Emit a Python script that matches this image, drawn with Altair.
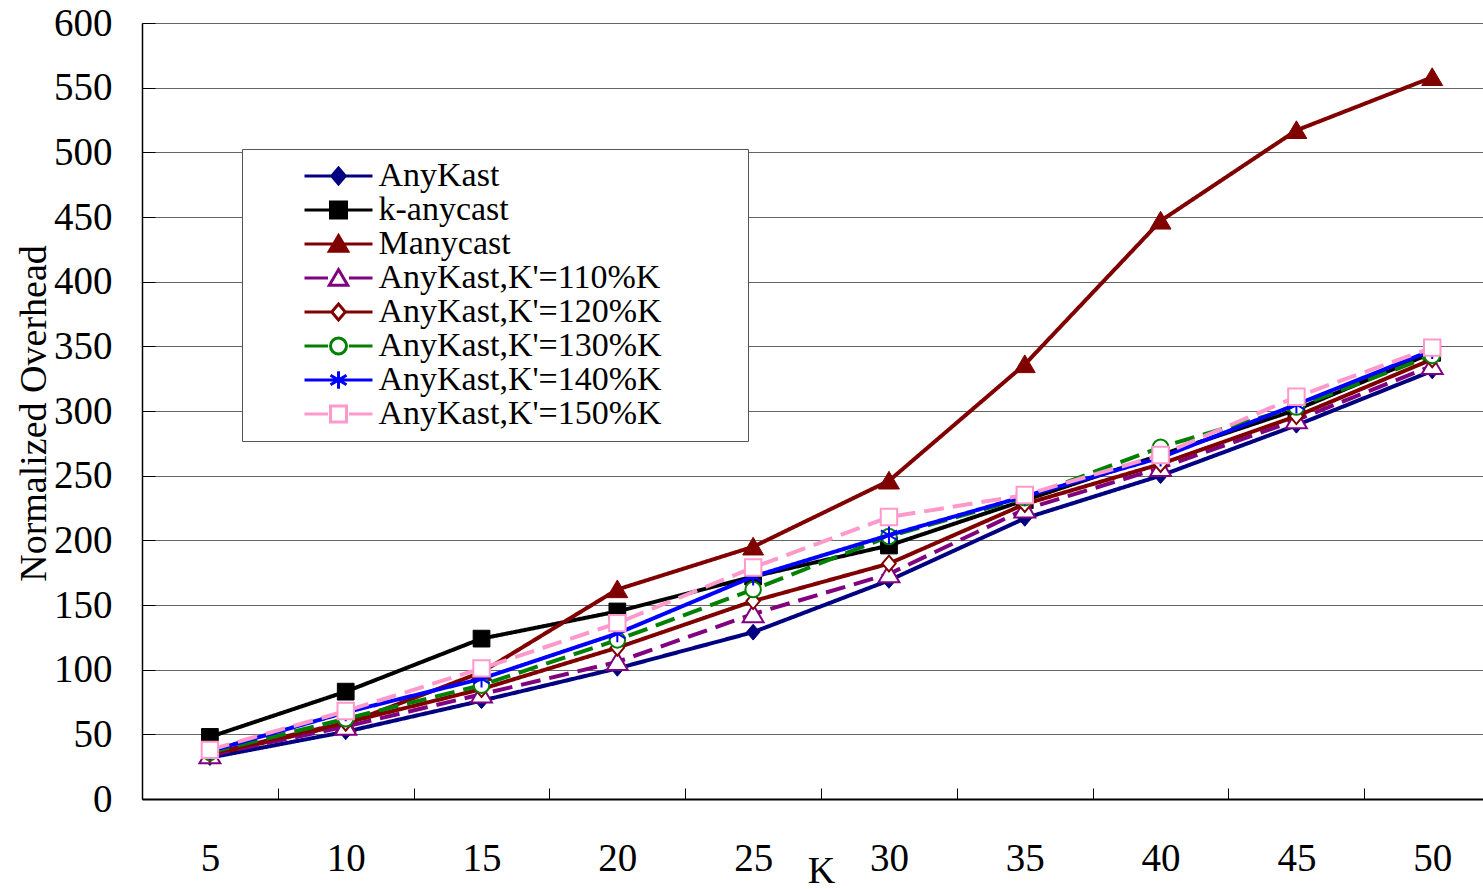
import altair as alt
import pandas as pd

# ---------------- data ----------------
K = [5, 10, 15, 20, 25, 30, 35, 40, 45, 50]
SERIES = [
    "AnyKast",
    "k-anycast",
    "Manycast",
    "AnyKast,K'=110%K",
    "AnyKast,K'=120%K",
    "AnyKast,K'=130%K",
    "AnyKast,K'=140%K",
    "AnyKast,K'=150%K",
]
anykast = [32, 52, 76, 101, 129, 169, 217, 250, 289, 331]
k_anycast = [48, 83, 124, 145, 172, 196, 231, 266, 301, 345]
manycast = [34, 58, 98, 162, 195, 246, 336, 447, 517, 558]
ak110 = [34, 56, 81, 106, 143, 174, 224, 256, 293, 335]
ak120 = [35, 59, 85, 117, 153, 182, 228, 259, 296, 340]
ak130 = [36, 62, 88, 123, 162, 203, 233, 272, 303, 343]
ak140 = [37, 67, 93, 128, 172, 204, 234, 264, 305, 347]
ak150 = [38, 68, 101, 136, 179, 218, 235, 266, 311, 349]
VALUES = [anykast, k_anycast, manycast, ak110, ak120, ak130, ak140, ak150]
Y_TICKS = list(range(0, 601, 50))

COLORS = ["#000080", "#000000", "#800000", "#800080", "#800000", "#008000", "#0000FF", "#FF99CC"]
FILLS = ["#000080", "#000000", "#800000", "#FFFFFF", "#FFFFFF", "#FFFFFF", "#FFFFFF", "#FFFFFF"]
DASHED = [False, False, False, True, False, True, False, True]
MARKERS = ["diamond", "square", "triangle", "triangle", "diamond", "circle", "asterisk", "square"]
OPEN = [False, False, False, True, True, True, True, True]

rows = []
for s, vals in zip(SERIES, VALUES):
    for k, v in zip(K, vals):
        rows.append({"K": k, "value": v, "series": s})
df = pd.DataFrame(rows)

# boundaries between K categories (where the axis ticks sit)
TICK_POS = [(a + b) / 2 for a, b in zip(K[:-1], K[1:])]


# ---------------- marker geometry ----------------
def fmt(v):
    return f"{v:.3f}".rstrip("0").rstrip(".")


def marker_path(kind, s):
    if kind == "diamond":
        pts = [(0, -1), (0.85, 0), (0, 1), (-0.85, 0)]
    elif kind == "square":
        pts = [(-1, -1), (1, -1), (1, 1), (-1, 1)]
    elif kind == "triangle":
        pts = [(0, -1.05), (1.15, 0.9), (-1.15, 0.9)]
    elif kind == "circle":
        r = fmt(s)
        return f"M{r},0A{r},{r},0,1,1,-{r},0A{r},{r},0,1,1,{r},0Z"
    else:  # asterisk
        segs = [((0, -1.1), (0, 1.1)), ((-1, -0.6), (1, 0.6)), ((-1, 0.6), (1, -0.6))]
        return "".join(
            f"M{fmt(a[0]*s)},{fmt(a[1]*s)}L{fmt(b[0]*s)},{fmt(b[1]*s)}" for a, b in segs
        )
    return "M" + "L".join(f"{fmt(x*s)},{fmt(y*s)}" for x, y in pts) + "Z"


HALF_W = {"diamond": 0.85, "square": 1.0, "triangle": 1.15, "circle": 1.0, "asterisk": 1.0}


def legend_path(kind, dashed, open_):
    m = 0.8  # marker scale in legend units (1 unit = 10 px)
    L = 3.4
    if dashed:
        g = 1.05
        line = f"M-{L},0L-{g},0M{g},0L{L},0"
    elif open_ and kind != "asterisk":
        g = HALF_W[kind] * m
        line = f"M-{L},0L-{fmt(g)},0M{fmt(g)},0L{L},0"
    else:
        line = f"M-{L},0L{L},0"
    return line + marker_path(kind, m)


CHART_SHAPES = [marker_path(k, 1.0) for k in MARKERS]
CHART_SIZES = [250, 280, 330, 330, 250, 240, 260, 270]
LEGEND_SHAPES = [legend_path(k, d, o) for k, d, o in zip(MARKERS, DASHED, OPEN)]
DASHES = [[20, 9] if d else [1, 0] for d in DASHED]

# ---------------- geometry ----------------
W, H = 1341, 776
FONT = "Liberation Serif"

x_scale = alt.Scale(domain=[2.5, 51.87], nice=False, zero=False)
y_scale = alt.Scale(domain=[0, 600], nice=False, zero=False)
stroke_scale = alt.Scale(domain=SERIES, range=COLORS)
fill_scale = alt.Scale(domain=SERIES, range=FILLS)
shape_scale = alt.Scale(domain=SERIES, range=LEGEND_SHAPES)

base = alt.Chart(df)

main_x_axis = alt.Axis(
    orient="bottom", values=K, ticks=False, tickSize=0, labelPadding=40,
    labelFontSize=39, labelColor="black", labelFont=FONT,
    domain=True, domainColor="black", domainWidth=2, grid=False,
    title="K", titleFontSize=38, titleFont=FONT, titleFontWeight="normal",
    titleColor="black", titleX=679, titleY=83, titleBaseline="alphabetic",
)
main_y_axis = alt.Axis(
    orient="left", values=Y_TICKS, ticks=False, tickSize=0, labelPadding=30,
    labelFontSize=39, labelColor="black", labelFont=FONT,
    domain=True, domainColor="black", domainWidth=1.5,
    grid=True, gridColor="#666666", gridWidth=1,
    title="Normalized Overhead", titleFontSize=38, titleFont=FONT,
    titleFontWeight="normal", titleColor="black",
    titleX=-97, titleY=390, titleBaseline="alphabetic", titleAngle=270,
)

layers = []
for i, s in enumerate(SERIES):
    sub = base.transform_filter(alt.FieldEqualPredicate(field="series", equal=s))
    first = i == 0
    line = sub.mark_line(
        stroke=COLORS[i], strokeWidth=4, strokeDash=DASHES[i]
    ).encode(
        x=alt.X("K:Q", scale=x_scale, axis=main_x_axis if first else None),
        y=alt.Y("value:Q", scale=y_scale, axis=main_y_axis if first else None),
    )
    pts = sub.mark_point(
        shape=CHART_SHAPES[i], size=CHART_SIZES[i], filled=True,
        fill=FILLS[i], stroke=COLORS[i], strokeWidth=2 if OPEN[i] else 1,
        opacity=1,
    ).encode(
        x=alt.X("K:Q", scale=x_scale, axis=None),
        y=alt.Y("value:Q", scale=y_scale, axis=None),
    )
    layers += [line, pts]

legend = alt.Legend(
    title=" ", titleOrient="right", titlePadding=76, titleFontSize=2,
    orient="none", legendX=100, legendY=126,
    fillColor="white", strokeColor="#555555", padding=10,
    symbolSize=400, symbolStrokeWidth=3, symbolOffset=69.5,
    symbolFillColor="white", symbolOpacity=1,
    labelOffset=23, labelFontSize=34, labelFont=FONT, labelColor="black",
    labelLimit=1000, rowPadding=0,
)

legend_layer = (
    base.transform_filter("false")
    .mark_point(size=400, filled=True, opacity=1)
    .encode(
        x=alt.X("K:Q", scale=x_scale, axis=alt.Axis(
            orient="top", offset=-H, values=TICK_POS, labels=False, domain=False,
            ticks=True, tickSize=11, tickColor="black", tickWidth=1, grid=False, title=None)),
        y=alt.Y("value:Q", scale=y_scale, axis=alt.Axis(
            orient="right", offset=-W, values=Y_TICKS, labels=False, domain=False,
            ticks=True, tickSize=13, tickColor="black", tickWidth=1, grid=False, title=None)),
        stroke=alt.Stroke("series:N", scale=stroke_scale, legend=legend),
        fill=alt.Fill("series:N", scale=fill_scale, legend=legend),
        shape=alt.Shape("series:N", scale=shape_scale, legend=legend),
    )
)

chart = (
    alt.layer(*layers, legend_layer)
    .resolve_axis(x="independent", y="independent")
    .properties(
        width=W, height=H,
        padding={"left": 142, "top": 23, "right": 0, "bottom": 90},
        autosize=alt.AutoSizeParams(type="none"),
    )
    .configure_view(stroke=None)
    .configure(background="white")
)

chart.save("out.html", embed_options={"renderer": "svg", "actions": False})
